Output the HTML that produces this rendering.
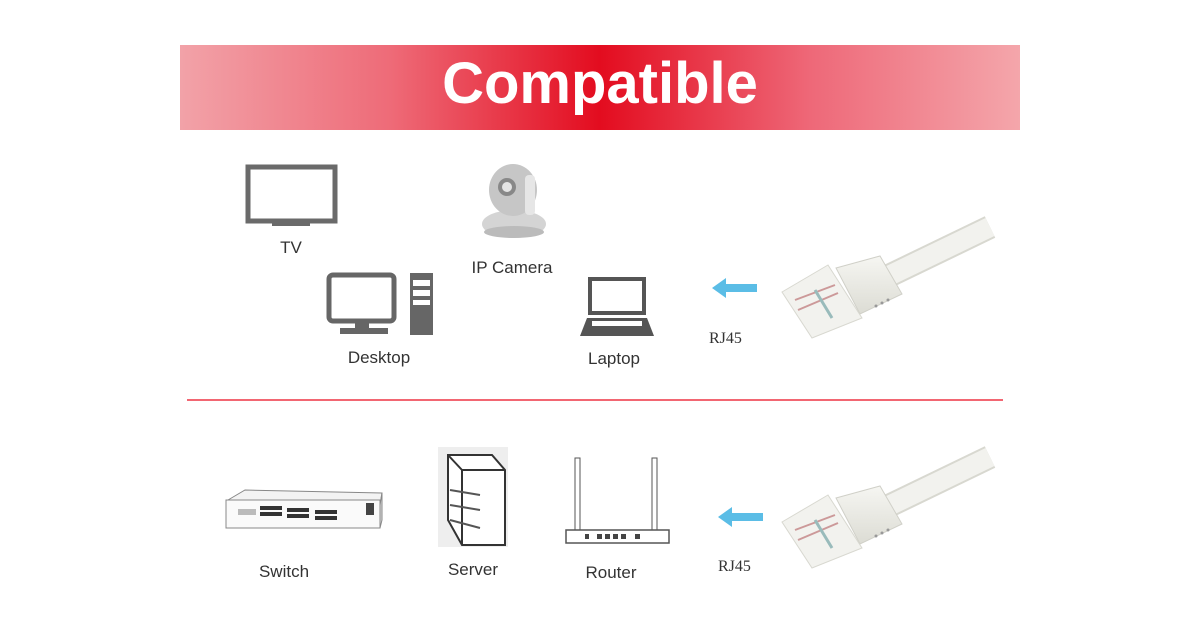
<!DOCTYPE html>
<html><head><style>
body{margin:0;width:1200px;height:630px;background:#fff;overflow:hidden;position:relative;font-family:"Liberation Sans",sans-serif}
.l{position:absolute;font-size:17px;color:#333;transform:translateX(-50%);white-space:nowrap}
.s{position:absolute;font-family:"Liberation Serif",serif;font-size:16px;color:#333}
</style></head><body>
<div style="position:absolute;left:180px;top:45px;width:840px;height:85px;background:linear-gradient(90deg,#f2a2a8 0%,#ee6b78 25%,#e30c1f 50%,#ee6878 75%,#f4a6ab 100%)"></div>
<div style="position:absolute;left:0;width:1200px;top:50px;text-align:center;color:#fff;font-weight:bold;font-size:58px;letter-spacing:0px">Compatible</div>

<svg width="1200" height="630" style="position:absolute;left:0;top:0">
<defs>
<linearGradient id="cg" x1="0" y1="0" x2="0" y2="1"><stop offset="0" stop-color="#f6f6f2"/><stop offset="1" stop-color="#dcdcd4"/></linearGradient>
</defs>
<!-- TV -->
<rect x="248" y="167" width="87" height="54" fill="none" stroke="#6a6a6a" stroke-width="5"/>
<rect x="286" y="221" width="10" height="4" fill="#6a6a6a"/><rect x="272" y="223" width="38" height="3" fill="#6a6a6a"/>
<!-- Desktop -->
<rect x="329" y="275" width="65" height="46" rx="4" fill="none" stroke="#666" stroke-width="5"/>
<rect x="355" y="322" width="14" height="8" fill="#666"/><rect x="340" y="328" width="48" height="6" fill="#666"/>
<rect x="410" y="273" width="23" height="62" fill="#666"/>
<rect x="413" y="280" width="17" height="6" fill="#fff"/><rect x="413" y="290" width="17" height="6" fill="#fff"/><rect x="413" y="300" width="17" height="5" fill="#fff"/>
<!-- Camera -->
<ellipse cx="514" cy="224" rx="32" ry="14" fill="#d4d4d4"/>
<ellipse cx="514" cy="232" rx="30" ry="6" fill="#bbb"/>
<ellipse cx="513" cy="190" rx="24" ry="26" fill="#c6c6c6"/>
<circle cx="507" cy="187" r="9" fill="#888"/><circle cx="507" cy="187" r="5" fill="#e4e4e4"/>
<rect x="525" y="175" width="10" height="40" rx="4" fill="#e6e6e6"/>
<!-- Laptop -->
<rect x="590" y="279" width="54" height="34" fill="none" stroke="#555" stroke-width="4"/>
<polygon points="587,318 647,318 654,336 580,336" fill="#555"/>
<rect x="592" y="321" width="50" height="5" fill="#fff"/>
<!-- arrows -->
<polygon points="712,288 726,278 726,284 757,284 757,292 726,292 726,298" fill="#5bbde6"/>
<polygon points="718,517 732,507 732,513 763,513 763,521 732,521 732,527" fill="#5bbde6"/>
<!-- cables -->
<g id="c1">
<path d="M870,285 L990,227" stroke="#d8d8d0" stroke-width="24" fill="none"/>
<path d="M870,285 L990,227" stroke="#f2f2ee" stroke-width="20" fill="none"/>
<polygon points="836,268 880,256 902,294 860,314" fill="url(#cg)" stroke="#d0d0c8"/>
<g fill="#999"><circle cx="888" cy="300" r="1.5"/><circle cx="882" cy="303" r="1.5"/><circle cx="876" cy="306" r="1.5"/></g>
<polygon points="782,292 828,265 862,318 812,338" fill="#f2f2ee" stroke="#d8d8d0"/>
<path d="M795,300 L835,285 M798,310 L838,293" stroke="#c99" stroke-width="2"/>
<path d="M815,290 L832,318" stroke="#9bb" stroke-width="3"/>
</g>
<use href="#c1" transform="translate(0,230)"/>
<!-- red line -->
<line x1="187" y1="400" x2="1003" y2="400" stroke="#e34" stroke-width="1.5"/>
<!-- switch -->
<polygon points="228,500 245,490 382,493 380,505" fill="#f3f3f3" stroke="#888"/>
<rect x="226" y="500" width="154" height="28" fill="#fafafa" stroke="#888"/>
<polygon points="380,505 382,493 382,520 380,528" fill="#ddd" stroke="#888"/>
<rect x="238" y="509" width="18" height="6" fill="#bbb"/>
<g fill="#333"><rect x="260" y="506" width="22" height="4"/><rect x="260" y="512" width="22" height="4"/><rect x="287" y="508" width="22" height="4"/><rect x="287" y="514" width="22" height="4"/><rect x="315" y="510" width="22" height="4"/><rect x="315" y="516" width="22" height="4"/></g>
<rect x="366" y="503" width="8" height="12" fill="#444"/>
<!-- server -->
<rect x="438" y="447" width="70" height="100" fill="#eee"/>
<polygon points="448,455 492,455 505,470 505,545 462,545 448,520" fill="#fff" stroke="#333" stroke-width="2"/>
<line x1="448" y1="455" x2="462" y2="470" stroke="#333" stroke-width="2"/><line x1="462" y1="470" x2="505" y2="470" stroke="#333" stroke-width="2"/><line x1="462" y1="470" x2="462" y2="545" stroke="#333" stroke-width="2"/>
<g stroke="#555" stroke-width="2"><line x1="450" y1="490" x2="480" y2="495"/><line x1="450" y1="505" x2="480" y2="510"/><line x1="450" y1="520" x2="480" y2="528"/></g>
<!-- router -->
<rect x="575" y="458" width="5" height="75" fill="#fff" stroke="#555"/><rect x="652" y="458" width="5" height="75" fill="#fff" stroke="#555"/>
<rect x="566" y="530" width="103" height="13" fill="#fff" stroke="#555" stroke-width="1.5"/>
<g fill="#444"><rect x="585" y="534" width="4" height="5"/><rect x="597" y="534" width="5" height="5"/><rect x="605" y="534" width="5" height="5"/><rect x="613" y="534" width="5" height="5"/><rect x="621" y="534" width="5" height="5"/><rect x="635" y="534" width="5" height="5"/></g>
</svg>

<div class="l" style="left:291px;top:238px">TV</div>
<div class="l" style="left:512px;top:258px">IP Camera</div>
<div class="l" style="left:379px;top:348px">Desktop</div>
<div class="l" style="left:614px;top:349px">Laptop</div>
<div class="s" style="left:709px;top:330px">RJ45</div>
<div class="l" style="left:284px;top:562px">Switch</div>
<div class="l" style="left:473px;top:560px">Server</div>
<div class="l" style="left:611px;top:563px">Router</div>
<div class="s" style="left:718px;top:558px">RJ45</div>
</body></html>
